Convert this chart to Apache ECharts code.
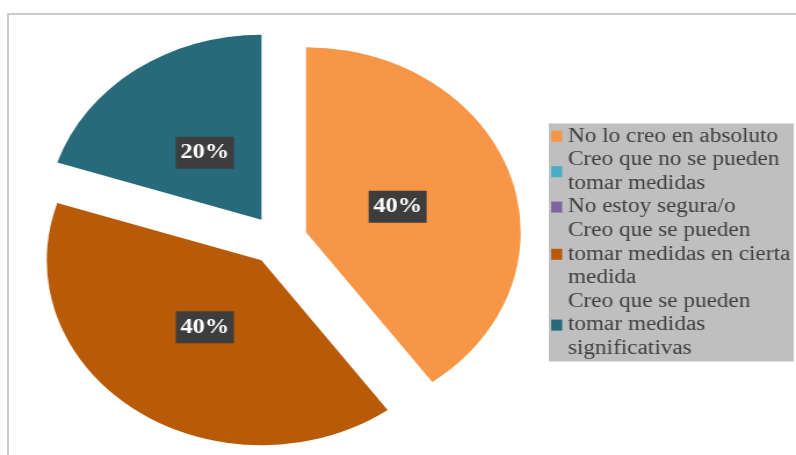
<!DOCTYPE html>
<html>
<head>
<meta charset="utf-8">
<script src="https://cdn.jsdelivr.net/npm/echarts@6/dist/echarts.min.js"></script>
<style>
  html, body { margin: 0; padding: 0; background: #ffffff; overflow: hidden; }
  #frame {
    position: absolute; left: 7px; top: 13px; width: 820px; height: 480px;
    border-top: 2px solid #cdcdcd; border-left: 2px solid #cdcdcd;
  }
  #chart {
    position: absolute; left: 0; top: 0; width: 686px; height: 455px;
    transform: scaleX(1.1603); transform-origin: 0 0;
  }
</style>
</head>
<body>
<div id="frame"></div>
<div id="chart"></div>
<script>
// Survey answers and their shares (percent)
const categories = [
  'No lo creo en absoluto',
  'Creo que no se pueden tomar medidas',
  'No estoy segura/o',
  'Creo que se pueden tomar medidas en cierta medida',
  'Creo que se pueden tomar medidas significativas'
];
const legendLines = [
  'No lo creo en absoluto',
  'Creo que no se pueden\ntomar medidas',
  'No estoy segura/o',
  'Creo que se pueden\ntomar medidas en cierta\nmedida',
  'Creo que se pueden\ntomar medidas\nsignificativas'
];
const values = [40, 0, 0, 40, 20];
const colors = ['#F79646', '#4BACC6', '#8064A2', '#B85A08', '#266A7C'];

const serif = 'Liberation Serif';

const legendText = {};
categories.forEach((c, i) => { legendText[c] = legendLines[i]; });

const chart = echarts.init(document.getElementById('chart'), null, { renderer: 'canvas' });

const center = [240, 240];
const offset = 25;

const sliceData = categories.map((name, i) => ({
  name: name,
  value: values[i],
  selected: true,
  itemStyle: { color: colors[i] }
}));

const labelData = categories.map((name, i) => ({
  name: name,
  value: values[i],
  selected: true,
  label: { show: values[i] > 0 }
}));

chart.setOption({
  animation: false,
  textStyle: { fontFamily: serif },
  legend: {
    orient: 'vertical',
    left: 473,
    top: 123.5,
    data: categories,
    icon: 'rect',
    itemWidth: 9.5,
    itemHeight: 11,
    itemGap: 0,
    padding: [1, 3, 1, 2],
    backgroundColor: '#BFBFBF',
    selectedMode: false,
    formatter: name => legendText[name],
    textStyle: {
      fontFamily: serif,
      fontSize: 20,
      lineHeight: 23.6,
      color: '#404040'
    }
  },
  series: [
    {
      // coloured slices
      type: 'pie',
      center: center,
      radius: 185,
      startAngle: 90,
      clockwise: true,
      selectedMode: 'multiple',
      selectedOffset: offset,
      silent: true,
      emphasis: { disabled: true },
      label: { show: false },
      labelLine: { show: false },
      data: sliceData
    },
    {
      // percentage tags, placed closer to each slice's tip
      type: 'pie',
      center: center,
      radius: 160,
      startAngle: 90,
      clockwise: true,
      selectedMode: 'multiple',
      selectedOffset: offset,
      silent: true,
      emphasis: { disabled: true },
      itemStyle: { color: 'rgba(0,0,0,0)' },
      labelLine: { show: false },
      label: {
        position: 'inside',
        formatter: '{d}%',
        fontFamily: serif,
        fontWeight: 'bold',
        fontSize: 21,
        lineHeight: 20,
        color: '#ffffff',
        backgroundColor: '#3d3d3d',
        padding: [6, 4, 6, 4]
      },
      data: labelData
    }
  ]
});
</script>
</body>
</html>
